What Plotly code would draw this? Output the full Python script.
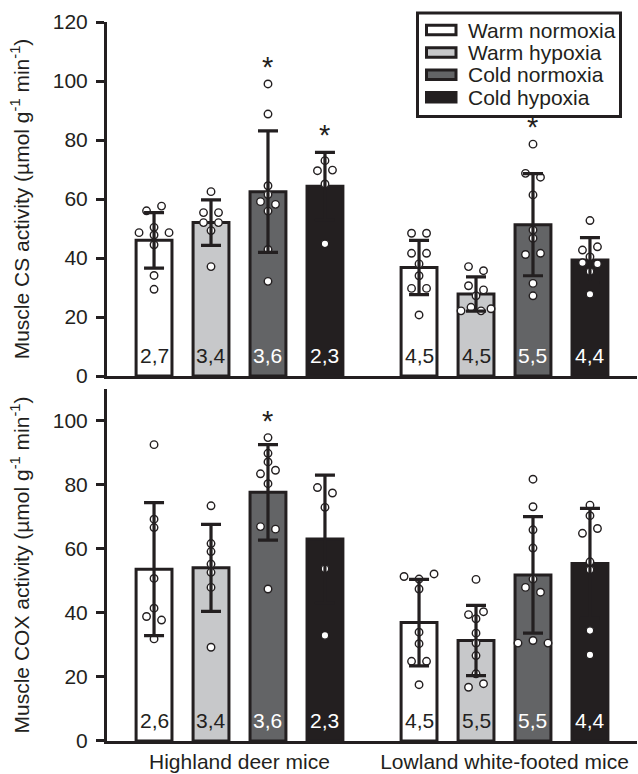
import plotly.graph_objects as go

# ---------------- data ----------------
groups = ["Highland deer mice", "Lowland white-footed mice"]
conditions = ["Warm normoxia", "Warm hypoxia", "Cold normoxia", "Cold hypoxia"]

# Muscle CS activity (top panel)
cs_mean = [[46.0, 52.0, 62.5, 64.3], [36.8, 27.8, 51.3, 39.3]]
cs_sd = [[9.4, 7.7, 20.6, 11.5], [9.2, 5.8, 17.3, 7.6]]
cs_n = [["2,7", "3,4", "3,6", "2,3"], ["4,5", "4,5", "5,5", "4,4"]]
cs_points = [
    [[56.0, 57.6, 48.6, 50.4, 48.6, 47.8, 44.5, 34.1, 29.4],
     [62.5, 55.4, 55.4, 52.0, 52.0, 49.3, 37.1],
     [99.0, 88.8, 64.5, 61.5, 59.1, 58.2, 55.9, 42.9, 32.1],
     [73.0, 69.6, 69.8, 65.1, 44.8]],
    [[48.4, 48.4, 41.6, 41.6, 38.0, 34.0, 29.7, 29.7, 20.7],
     [37.1, 35.7, 30.6, 29.2, 27.2, 22.1, 23.3, 22.1, 22.8],
     [78.6, 68.7, 67.4, 61.4, 49.5, 46.7, 41.2, 41.6, 31.4, 27.2],
     [52.7, 42.7, 43.8, 40.4, 38.4, 38.0, 35.4, 27.7]],
]
cs_signif = [(0, 2), (0, 3), (1, 2)]  # (group, condition) marked with *

# Muscle COX activity (bottom panel)
cox_mean = [[53.7, 54.1, 77.7, 63.1], [37.0, 31.4, 51.9, 55.5]]
cox_sd = [[20.8, 13.6, 14.9, 20.0], [13.5, 11.0, 18.2, 17.2]]
cox_n = [["2,6", "3,4", "3,6", "2,3"], ["4,5", "5,5", "5,5", "4,4"]]
cox_points = [
    [[92.6, 69.3, 66.7, 50.8, 41.5, 38.9, 37.8, 31.9],
     [73.5, 61.7, 59.2, 55.3, 52.7, 48.0, 29.3],
     [94.8, 89.9, 87.2, 83.5, 84.6, 80.4, 67.0, 66.2, 47.5],
     [79.2, 77.5, 73.0, 53.8, 33.0]],
    [[51.4, 50.6, 52.2, 47.5, 34.0, 30.4, 24.9, 24.9, 17.6],
     [50.5, 39.5, 40.4, 38.2, 33.7, 30.6, 26.7, 21.0, 16.8, 17.9],
     [81.8, 73.2, 66.0, 60.3, 50.6, 48.0, 46.5, 30.6, 31.4, 30.6],
     [73.7, 70.4, 64.9, 66.4, 53.5, 56.0, 34.5, 26.9]],
]
cox_signif = [(0, 2)]

# ---------------- style / layout ----------------
FONT = "Liberation Sans, Arial, Helvetica, sans-serif"
INK = "#231f20"
bar_colors = ["#ffffff", "#c7c8ca", "#636466", "#231f20"]
label_colors = [INK, INK, "#ffffff", "#ffffff"]

W, H = 638, 774
ML, MR, MT, MB = 107, 1, 22, 33
X_RANGE = [-0.5, 1.5]
TOP_DOM = [0.5076, 1.0]
BOT_DOM = [0.0, 0.4896]
TOP_RANGE = [0, 120]
BOT_RANGE = [0, 110]
BARGAP = 0.14
BARGROUPGAP = 0.37
slot = (1 - BARGAP) / len(conditions)

plot_w = W - ML - MR
plot_h = H - MT - MB
px_x = plot_w / (X_RANGE[1] - X_RANGE[0])
px_y_top = plot_h * (TOP_DOM[1] - TOP_DOM[0]) / (TOP_RANGE[1] - TOP_RANGE[0])
px_y_bot = plot_h * (BOT_DOM[1] - BOT_DOM[0]) / (BOT_RANGE[1] - BOT_RANGE[0])


def paper_x(px):
    return (px - ML) / plot_w


def paper_y(py):
    return 1 - (py - MT) / plot_h


def swarm_offsets(values, px_per_unit, thresh=5.5):
    """Arrange points that sit at (nearly) the same height side by side."""
    order = sorted(range(len(values)), key=lambda k: -values[k])
    rows, cur, anchor = [], [], None
    for k in order:
        if cur and (values[anchor] - values[k]) * px_per_unit < thresh:
            cur.append(k)
        else:
            if cur:
                rows.append(cur)
            cur, anchor = [k], k
    if cur:
        rows.append(cur)
    off = [0.0] * len(values)
    for row in rows:
        row = sorted(row)
        n = len(row)
        sp = 15.0 if n <= 3 else 30.0 / (n - 1)
        for j, k in enumerate(row):
            off[k] = (j - (n - 1) / 2) * sp
    return off


fig = go.Figure()

panels = [
    (cs_mean, cs_sd, cs_n, cs_points, cs_signif, "x", "y", px_y_top),
    (cox_mean, cox_sd, cox_n, cox_points, cox_signif, "x2", "y2", px_y_bot),
]

annotations = []
shapes = []
for means, sds, ns, pts, sig, xa, ya, pxy in panels:
    # bars
    for i, cond in enumerate(conditions):
        fig.add_trace(go.Bar(
            x=list(range(len(groups))), y=[means[g][i] for g in range(len(groups))],
            name=cond, showlegend=False,
            marker=dict(color=bar_colors[i], line=dict(color=INK, width=3)),
            xaxis=xa, yaxis=ya, hoverinfo="skip",
        ))
    # points
    for g in range(len(groups)):
        for i in range(len(conditions)):
            vals = pts[g][i]
            center = g + (i - 1.5) * slot
            offs = swarm_offsets(vals, pxy)
            fig.add_trace(go.Scatter(
                x=[center + o / px_x for o in offs], y=vals, mode="markers",
                marker=dict(size=7.5, color="white", line=dict(color=INK, width=1.4)),
                showlegend=False, xaxis=xa, yaxis=ya, hoverinfo="skip",
            ))
    # error bars (drawn above points)
    for i in range(len(conditions)):
        fig.add_trace(go.Scatter(
            x=[g + (i - 1.5) * slot for g in range(len(groups))],
            y=[means[g][i] for g in range(len(groups))], mode="markers",
            marker=dict(size=1, color="rgba(0,0,0,0)"),
            error_y=dict(type="data", array=[sds[g][i] for g in range(len(groups))],
                         color=INK, thickness=3.2, width=10),
            showlegend=False, xaxis=xa, yaxis=ya, hoverinfo="skip",
        ))
    # n labels
    for g in range(len(groups)):
        for i in range(len(conditions)):
            annotations.append(dict(
                x=g + (i - 1.5) * slot, y=0, xref=xa, yref=ya, text=ns[g][i],
                showarrow=False, yanchor="bottom", yshift=7,
                font=dict(family=FONT, size=21, color=label_colors[i]),
            ))
    # significance stars
    for g, i in sig:
        top = max(max(pts[g][i]), means[g][i] + sds[g][i])
        annotations.append(dict(
            x=g + (i - 1.5) * slot, y=top, xref=xa, yref=ya, text="*",
            showarrow=False, yanchor="bottom", yshift=-1,
            font=dict(family=FONT, size=29, color=INK),
        ))

# legend box (drawn as a framed key, matching the reference's wide swatches)
LEG_BOX = (417.5, 13, 620.5, 116.5)
LEG_ROW0, LEG_ROW_STEP = 30, 22.4
SW_X0, SW_X1, SW_H = 426.5, 456, 9.5
TXT_X = 466
shapes.append(dict(type="rect", xref="paper", yref="paper",
                   x0=paper_x(LEG_BOX[0]), x1=paper_x(LEG_BOX[2]),
                   y0=paper_y(LEG_BOX[3]), y1=paper_y(LEG_BOX[1]),
                   line=dict(color=INK, width=3), fillcolor="white", layer="above"))
for i, cond in enumerate(conditions):
    cy = LEG_ROW0 + i * LEG_ROW_STEP
    shapes.append(dict(type="rect", xref="paper", yref="paper",
                       x0=paper_x(SW_X0), x1=paper_x(SW_X1),
                       y0=paper_y(cy + SW_H / 2), y1=paper_y(cy - SW_H / 2),
                       line=dict(color=INK, width=3), fillcolor=bar_colors[i],
                       layer="above"))
    annotations.append(dict(x=paper_x(TXT_X), y=paper_y(cy), xref="paper", yref="paper",
                            text=cond, showarrow=False, xanchor="left", yanchor="middle",
                            font=dict(family=FONT, size=21, color=INK)))

axis_common = dict(showline=True, linecolor=INK, linewidth=3, showgrid=False,
                   zeroline=False, color=INK)

fig.update_layout(
    width=W, height=H,
    margin=dict(l=ML, r=MR, t=MT, b=MB, pad=0),
    paper_bgcolor="white", plot_bgcolor="white",
    font=dict(family=FONT, size=21, color=INK),
    barmode="group", bargap=BARGAP, bargroupgap=BARGROUPGAP,
    showlegend=False,
    xaxis=dict(domain=[0, 1], anchor="y", range=X_RANGE, ticks="",
               showticklabels=False, **axis_common),
    xaxis2=dict(domain=[0, 1], anchor="y2", range=X_RANGE, ticks="",
                tickvals=list(range(len(groups))), ticktext=groups,
                tickfont=dict(size=21), automargin=False, **axis_common),
    yaxis=dict(domain=TOP_DOM, anchor="x", range=TOP_RANGE, tick0=0, dtick=20,
               ticks="outside", ticklen=8, tickwidth=3, tickcolor=INK,
               tickfont=dict(size=21), automargin=True, ticklabelstandoff=4,
               title=dict(text="Muscle CS activity (µmol g<sup>-1</sup> min<sup>-1</sup>)",
                          font=dict(size=21), standoff=18),
               **axis_common),
    yaxis2=dict(domain=BOT_DOM, anchor="x2", range=BOT_RANGE,
                tickvals=[0, 20, 40, 60, 80, 100],
                ticks="outside", ticklen=8, tickwidth=3, tickcolor=INK,
                tickfont=dict(size=21), automargin=True, ticklabelstandoff=4,
                title=dict(text="Muscle COX activity (µmol g<sup>-1</sup> min<sup>-1</sup>)",
                           font=dict(size=21), standoff=18),
                **axis_common),
    annotations=annotations,
    shapes=shapes,
)

fig.write_html("out.html")
